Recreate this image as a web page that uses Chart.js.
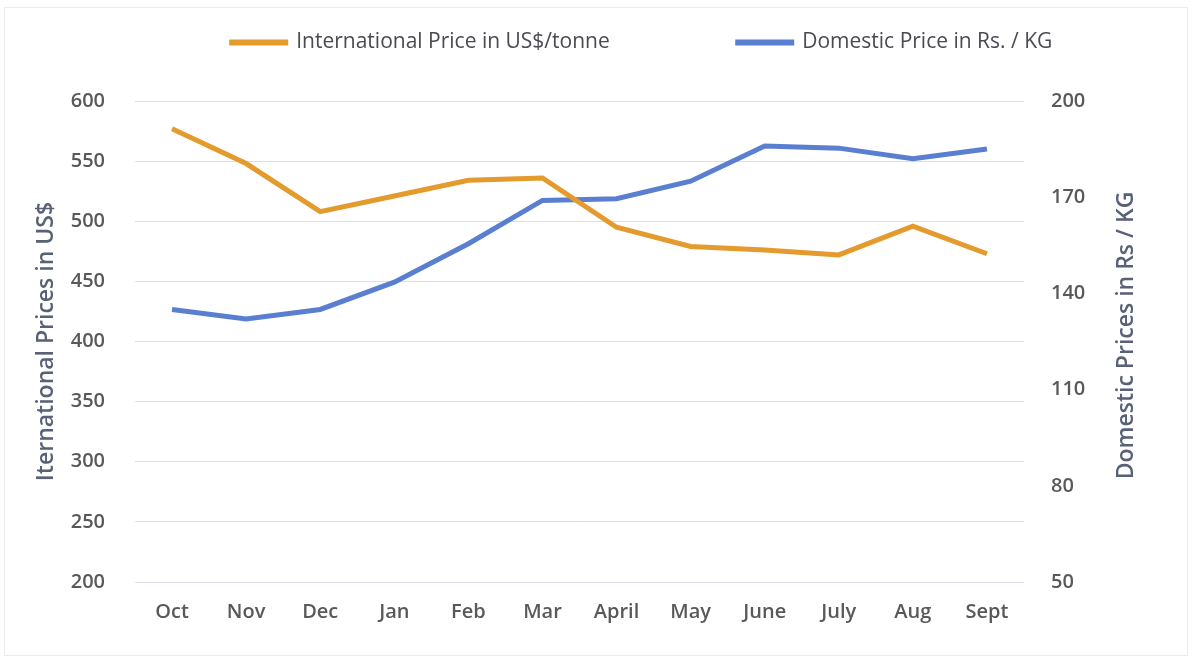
<!DOCTYPE html>
<html>
<head>
<meta charset="utf-8">
<script src="https://cdn.jsdelivr.net/npm/chart.js@4/dist/chart.umd.min.js"></script>
<style>
  body { margin: 0; background: #fff; }
  #wrap { position: relative; width: 1192px; height: 662px; }
  #frame { position: absolute; left: 4px; top: 7px; width: 1182px; height: 647px; border: 1px solid #ececec; pointer-events: none; }
</style>
</head>
<body>
<div id="wrap">
  <canvas id="priceChart" width="1192" height="662"></canvas>
  <div id="frame"></div>
</div>
<script>
// Months on the x axis
var months = ['Oct', 'Nov', 'Dec', 'Jan', 'Feb', 'Mar', 'April', 'May', 'June', 'July', 'Aug', 'Sept'];

// International price (US$/tonne), left axis
var intlPrice = [577, 548, 508, 521, 534, 536, 495, 479, 476, 472, 496, 473];

// Domestic price (Rs / KG), right axis
var domesticPrice = [135, 132, 135, 143.5, 155.5, 169, 169.5, 175, 186, 185.3, 182, 185];

// Tick values
var leftTicks = [200, 250, 300, 350, 400, 450, 500, 550, 600];
var rightTicks = [50, 80, 110, 140, 170, 200];

var textGrey = '#595959';
var titleGrey = '#596176';
var fontFamily = '"Open Sans", "Noto Sans", sans-serif';
var rightTitle = 'Domestic Prices in Rs / KG';

// Move the legend up and to the right, keep it short
var legendTweak = {
    id: 'legendTweak',
    afterInit: function(chart) {
        var lg = chart.legend;
        var fit = lg.fit;
        lg.fit = function() {
            fit.call(this);
            this.height = 101;
        };
        var draw = lg._draw;
        lg._draw = function() {
            var c = this.ctx;
            c.save();
            c.translate(46, -96);
            draw.call(this);
            c.restore();
        };
    }
};

// Right axis title reads bottom to top, like the left one
var rightTitlePlugin = {
    id: 'rightTitle',
    afterDraw: function(chart) {
        var c = chart.ctx;
        var area = chart.chartArea;
        c.save();
        c.translate(1126, (area.top + area.bottom) / 2 - 6);
        c.rotate(-Math.PI / 2);
        c.font = '600 23px ' + fontFamily;
        c.fillStyle = titleGrey;
        c.textAlign = 'center';
        c.textBaseline = 'middle';
        c.fillText(rightTitle, 0, 0);
        c.restore();
    }
};

var ctx = document.getElementById('priceChart').getContext('2d');
var priceChart = new Chart(ctx, {
    type: 'line',
    data: {
        labels: months,
        datasets: [{
            label: 'International Price in US$/tonne',
            data: intlPrice,
            borderColor: '#E49A2C',
            backgroundColor: '#E49A2C',
            borderWidth: 5,
            pointRadius: 0,
            tension: 0,
            yAxisID: 'y'
        }, {
            label: 'Domestic Price in Rs. / KG',
            data: domesticPrice,
            borderColor: '#5B7FD0',
            backgroundColor: '#5B7FD0',
            borderWidth: 5,
            pointRadius: 0,
            tension: 0,
            yAxisID: 'y1'
        }]
    },
    options: {
        responsive: false,
        animation: false,
        layout: { padding: 0 },
        plugins: {
            legend: {
                position: 'top',
                labels: {
                    boxWidth: 54,
                    boxHeight: 1,
                    padding: 128,
                    color: '#4a4a52',
                    font: { family: fontFamily, size: 21 }
                }
            },
            tooltip: { enabled: false }
        },
        scales: {
            x: {
                offset: true,
                grid: { display: false, drawTicks: false },
                border: { display: false },
                ticks: {
                    padding: 18,
                    color: textGrey,
                    font: { family: fontFamily, size: 20, weight: '600' }
                },
                afterFit: function(s) { s.height = 80; }
            },
            y: {
                position: 'left',
                min: 200,
                max: 600,
                afterBuildTicks: function(s) {
                    s.ticks = leftTicks.map(function(v) { return { value: v }; });
                },
                grid: { color: '#DCDFEA', lineWidth: 1, drawTicks: false },
                border: { display: false },
                ticks: {
                    padding: 30,
                    color: textGrey,
                    font: { family: fontFamily, size: 20, weight: '600' }
                },
                title: {
                    display: true,
                    text: 'Iternational Prices in US$',
                    color: titleGrey,
                    padding: { top: 33, bottom: 0 },
                    font: { family: fontFamily, size: 23, weight: '600' }
                },
                afterFit: function(s) { s.width = 135; }
            },
            y1: {
                position: 'right',
                min: 50,
                max: 200,
                afterBuildTicks: function(s) {
                    s.ticks = rightTicks.map(function(v) { return { value: v }; });
                },
                grid: { display: false, drawTicks: false },
                border: { display: false },
                ticks: {
                    padding: 27,
                    color: textGrey,
                    font: { family: fontFamily, size: 20, weight: '600' }
                },
                afterFit: function(s) { s.width = 168; }
            }
        }
    },
    plugins: [legendTweak, rightTitlePlugin]
});
</script>
</body>
</html>
